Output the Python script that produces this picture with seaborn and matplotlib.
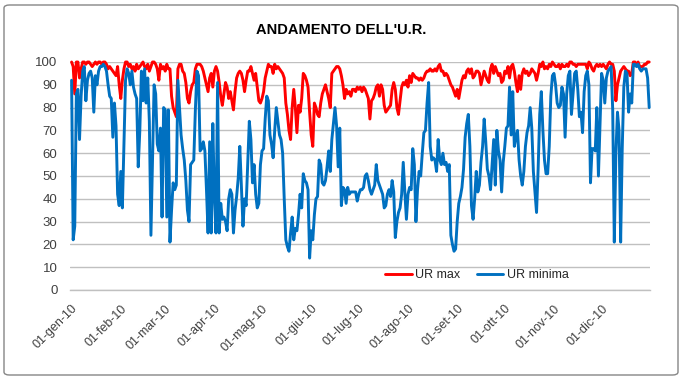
import numpy as np
import pandas as pd
import matplotlib
matplotlib.use("Agg")
import matplotlib.pyplot as plt
from matplotlib.patches import FancyBboxPatch
from matplotlib.lines import Line2D
import seaborn as sns

title = "ANDAMENTO DELL'U.R."
series_names = ["UR max", "UR minima"]
tick_labels = ["01-gen-10", "01-feb-10", "01-mar-10", "01-apr-10", "01-mag-10", "01-giu-10",
               "01-lug-10", "01-ago-10", "01-set-10", "01-ott-10", "01-nov-10", "01-dic-10"]
yticks = [0, 10, 20, 30, 40, 50, 60, 70, 80, 90, 100]

ur_max = [
    100, 98, 86, 100, 100, 93, 97, 100, 100, 99,
    100, 100, 99, 98, 99, 100, 99, 100, 100, 99,
    100, 100, 99, 97, 98, 97, 96, 95, 94, 98,
    90, 84, 92, 97, 100, 100, 98, 99, 97, 98,
    96, 99, 97, 98, 99, 100, 98, 97, 99, 96,
    98, 100, 100, 99, 97, 92, 99, 97, 98, 96,
    99, 97,
    97, 85, 80, 78, 76, 97, 99, 99, 96, 95,
    91, 84, 82, 87, 90, 91, 97, 99, 99, 99,
    98, 96, 93, 90, 87, 93, 95, 89, 96, 98,
    96, 91, 85, 81, 86, 91, 89, 84, 87, 83,
    79, 87, 93, 95, 96, 95, 92, 87, 92, 96,
    96, 98, 95, 92, 95, 89, 83, 82, 84, 87,
    93, 96, 99, 98,
    98, 95, 99, 97, 98, 97, 96, 95, 93, 82,
    77, 70, 66, 80, 88, 80, 69, 81, 78, 84,
    95, 94, 92, 89, 78, 68, 63, 82, 80, 77,
    76, 82, 86, 88, 90, 87, 84, 80, 95, 96,
    97, 98, 98, 97, 94, 90, 84, 88, 86, 87,
    85, 88, 88, 87, 89, 88, 89, 87, 89, 88,
    86, 84, 75,
    83, 84, 86, 89, 90, 85, 90, 88, 81, 78,
    79, 80, 81, 88, 91, 88, 80, 77, 83, 89,
    91, 90, 92, 89, 94, 91, 95, 94, 93, 93,
    92, 93, 92, 93, 95, 96, 96, 97, 96, 96,
    97, 96, 98, 99, 96, 96, 94, 95, 94, 92,
    90, 89, 87, 85, 88, 84, 88, 92, 94, 93,
    96, 97,
    95, 97, 93, 94, 96, 96, 95, 90, 93, 96,
    94, 92, 91, 97, 99, 95, 98, 96, 94, 95,
    91, 92, 96, 95, 98, 93, 98, 99, 96, 91,
    87, 94, 88, 95, 97, 95, 96, 94, 95, 97,
    96, 95, 92, 95, 99, 98, 100, 97, 98, 97,
    99, 98, 100, 99, 98, 98, 99, 97, 99, 98,
    98, 99, 98, 100,
    100, 99, 99, 98, 99, 99, 99, 99, 99, 99,
    97, 100, 99, 97, 96, 98, 99, 98, 99, 98,
    99, 98, 97, 99, 100, 99, 99, 96, 83, 90,
    93, 96, 97, 98, 97, 96, 96, 94, 95, 100,
    100, 99, 100, 98, 98, 98, 99, 99, 100, 100,
]

ur_min = [
    92, 22, 28, 86, 88, 66, 85, 96, 98, 83,
    92, 95, 96, 93, 78, 94, 90, 96, 98, 98,
    99, 98, 96, 90, 85, 84, 67, 82, 72, 42,
    37, 52, 36, 64, 92, 97, 95, 90, 96, 89,
    86, 84, 54, 70, 96, 83, 97, 82, 93, 74,
    24, 58, 90, 86, 64, 61, 71, 32, 80, 79,
    32, 79,
    21, 35, 47, 44, 46, 92, 80, 68, 62, 57,
    48, 35, 30, 55, 56, 57, 79, 96, 94, 61,
    62, 65, 61, 44, 25, 65, 25, 73, 40, 25,
    91, 25, 38, 31, 32, 30, 26, 40, 44, 42,
    25, 35, 41, 49, 63, 45, 28, 40, 37, 55,
    74, 66, 47, 55, 42, 36, 38, 55, 61, 62,
    75, 85, 83, 68,
    64, 58, 70, 80, 74, 68, 66, 60, 40, 22,
    19, 17, 25, 32, 22, 27, 26, 33, 42, 36,
    51, 48, 47, 44, 14, 26, 22, 33, 40, 41,
    57, 55, 47, 46, 48, 54, 61, 52, 66, 73,
    80, 72, 54, 71, 37, 45, 44, 38, 45, 42,
    43, 43, 43, 43, 39, 42, 44, 44, 45, 50,
    51, 48, 44,
    42, 44, 46, 55, 48, 46, 44, 42, 36, 37,
    42, 44, 41, 48, 43, 23, 30, 34, 36, 42,
    56, 43, 31, 42, 45, 44, 62, 55, 30, 44,
    52, 50, 60, 69, 70, 82, 91, 63, 57, 58,
    57, 52, 66, 57, 55, 60, 55, 56, 52, 55,
    24, 20, 17, 18, 30, 38, 41, 45, 53, 67,
    73, 77,
    63, 37, 31, 40, 52, 43, 46, 56, 63, 75,
    65, 53, 50, 44, 55, 66, 46, 70, 61, 57,
    43, 56, 63, 71, 72, 89, 68, 87, 63, 67,
    70, 57, 50, 46, 52, 63, 69, 72, 80, 71,
    52, 43, 34, 53, 77, 87, 70, 57, 51, 51,
    63, 85, 94, 95, 90, 82, 80, 81, 89, 86,
    67, 86, 94, 96,
    77, 86, 95, 96, 88, 76, 78, 69, 87, 94,
    96, 90, 47, 62, 62, 61, 80, 50, 72, 95,
    92, 82, 93, 96, 97, 98, 79, 21, 60, 78,
    70, 21, 62, 89, 96, 95, 78, 86, 82, 99,
    99, 98, 99, 97, 96, 97, 97, 97, 93, 80,
]

dates = pd.date_range("2010-01-01", periods=len(ur_max), freq="D")
df = pd.DataFrame({
    "data": np.concatenate([dates, dates]),
    "valore": ur_max + ur_min,
    "serie": [series_names[0]] * len(ur_max) + [series_names[1]] * len(ur_min),
})

sns.set_theme(style="white")
plt.rcParams["font.family"] = ["Liberation Sans", "DejaVu Sans"]

fig = plt.figure(figsize=(6.82, 3.79), dpi=100)
fig.patch.set_facecolor("white")
border = FancyBboxPatch((4 / 682, 4 / 379), 674 / 682, 370 / 379,
                        boxstyle="round,pad=0,rounding_size=0.008",
                        transform=fig.transFigure, facecolor="none",
                        edgecolor="#868686", linewidth=1.0)
fig.patches.append(border)

ax = fig.add_axes([70 / 682, 89 / 379, 580 / 682, 228 / 379])
palette = {series_names[0]: "#FF0000", series_names[1]: "#0070C0"}
sns.lineplot(data=df, x="data", y="valore", hue="serie", palette=palette,
             linewidth=2.1, ax=ax, legend=False, zorder=3)
for ln in ax.get_lines():
    ln.set_clip_on(False)

ax.set_ylim(0, 100)
ax.set_yticks(yticks)
ax.set_xlim(dates[0] - pd.Timedelta(days=1), dates[-1] + pd.Timedelta(hours=12))
ax.yaxis.grid(True, color="#C0C0C0", linewidth=1.0)
ax.xaxis.grid(False)
for s in ["top", "right", "left"]:
    ax.spines[s].set_visible(False)
ax.spines["bottom"].set_color("#C0C0C0")
ax.spines["bottom"].set_linewidth(1.0)
ax.set_xlabel("")
ax.set_ylabel("")

month_starts = pd.date_range("2010-01-01", periods=12, freq="MS")
ax.set_xticks(month_starts)
ax.set_xticklabels(tick_labels, rotation=45, ha="right", va="top",
                   rotation_mode="anchor", fontsize=9, color="#404040")
ax.tick_params(axis="x", length=0, pad=9)
ax.tick_params(axis="y", length=0, pad=9, labelsize=9.5, labelcolor="#404040")

handles = [Line2D([], [], color=palette[n], linewidth=2.1) for n in series_names]
ax.legend(handles, series_names, loc="center left", bbox_to_anchor=(0.535, 0.064),
          ncol=2, frameon=False, fontsize=9, handlelength=2.1, handletextpad=0.3,
          columnspacing=1.3, borderaxespad=0)

fig.text(0.5, 1 - 30 / 379, title, ha="center", va="center", fontsize=10.5,
         fontweight="bold", color="black")

fig.savefig("out.png", dpi=100, facecolor="white")
